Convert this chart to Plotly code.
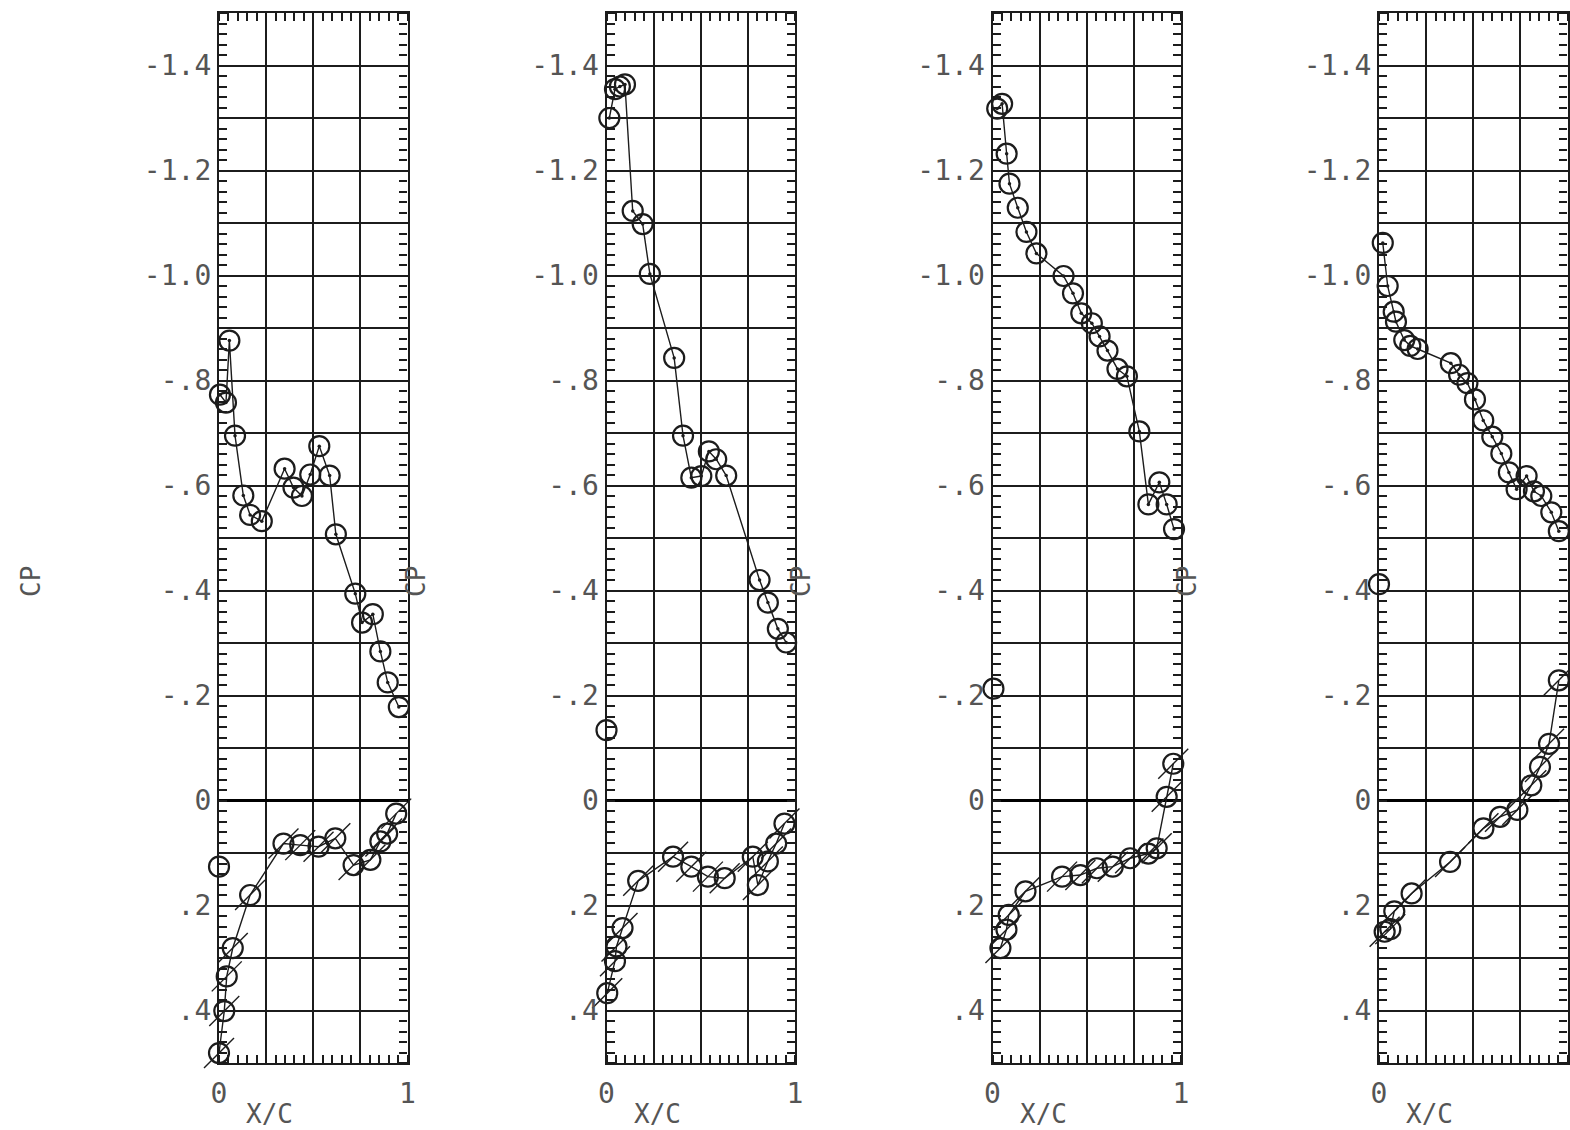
import plotly.graph_objects as go

# ---------------- data (x/c, Cp) ----------------
p1_up_x = [0.005, 0.037, 0.055, 0.085, 0.129, 0.165, 0.227, 0.348, 0.395, 0.44, 0.484, 0.532, 0.587, 0.62, 0.723, 0.759, 0.816, 0.856, 0.895, 0.954]
p1_up_cp = [-0.773, -0.758, -0.876, -0.695, -0.581, -0.544, -0.532, -0.632, -0.596, -0.580, -0.621, -0.675, -0.619, -0.507, -0.394, -0.339, -0.355, -0.284, -0.225, -0.178]
p1_le_x = [0.0]
p1_le_cp = [0.126]
p1_lo_x = [0.0, 0.028, 0.041, 0.073, 0.165, 0.342, 0.431, 0.528, 0.617, 0.714, 0.803, 0.856, 0.892, 0.94]
p1_lo_cp = [0.481, 0.401, 0.335, 0.281, 0.180, 0.082, 0.085, 0.088, 0.072, 0.123, 0.113, 0.078, 0.063, 0.025]

p2_up_x = [0.015, 0.045, 0.071, 0.098, 0.139, 0.192, 0.230, 0.359, 0.406, 0.45, 0.503, 0.543, 0.582, 0.635, 0.812, 0.856, 0.909, 0.953]
p2_up_cp = [-1.300, -1.355, -1.360, -1.364, -1.123, -1.098, -1.003, -0.843, -0.695, -0.615, -0.618, -0.665, -0.650, -0.619, -0.420, -0.377, -0.327, -0.301]
p2_le_x = [0.0]
p2_le_cp = [-0.134]
p2_lo_x = [0.004, 0.045, 0.053, 0.085, 0.168, 0.353, 0.45, 0.538, 0.627, 0.776, 0.803, 0.856, 0.900, 0.944]
p2_lo_cp = [0.367, 0.306, 0.278, 0.243, 0.153, 0.107, 0.126, 0.145, 0.148, 0.107, 0.161, 0.116, 0.082, 0.044]

p3_up_x = [0.025, 0.051, 0.075, 0.09, 0.134, 0.180, 0.233, 0.377, 0.427, 0.471, 0.527, 0.568, 0.610, 0.663, 0.713, 0.779, 0.827, 0.885, 0.924, 0.963]
p3_up_cp = [-1.318, -1.327, -1.232, -1.175, -1.129, -1.083, -1.042, -0.999, -0.966, -0.928, -0.909, -0.884, -0.857, -0.822, -0.808, -0.703, -0.564, -0.606, -0.564, -0.517]
p3_le_x = [0.005]
p3_le_cp = [-0.213]
p3_lo_x = [0.042, 0.074, 0.086, 0.175, 0.369, 0.466, 0.554, 0.638, 0.73, 0.827, 0.871, 0.924, 0.959]
p3_lo_cp = [0.281, 0.246, 0.218, 0.173, 0.145, 0.142, 0.129, 0.126, 0.110, 0.101, 0.091, -0.007, -0.070]

p4_up_x = [0.02, 0.046, 0.078, 0.090, 0.134, 0.166, 0.205, 0.381, 0.425, 0.469, 0.509, 0.553, 0.601, 0.649, 0.689, 0.730, 0.783, 0.822, 0.861, 0.914, 0.954]
p4_up_cp = [-1.062, -0.980, -0.931, -0.912, -0.877, -0.866, -0.860, -0.833, -0.811, -0.795, -0.764, -0.724, -0.693, -0.661, -0.625, -0.593, -0.618, -0.589, -0.580, -0.549, -0.513]
p4_le_x = [0.0]
p4_le_cp = [-0.412]
p4_lo_x = [0.03, 0.06, 0.081, 0.173, 0.377, 0.554, 0.642, 0.734, 0.808, 0.854, 0.902, 0.954]
p4_lo_cp = [0.25, 0.245, 0.211, 0.177, 0.117, 0.053, 0.031, 0.018, -0.029, -0.064, -0.108, -0.229]

y_tickvals = [-1.4, -1.3, -1.2, -1.1, -1.0, -0.9, -0.8, -0.7, -0.6, -0.5, -0.4, -0.3, -0.2, -0.1, 0.0, 0.1, 0.2, 0.3, 0.4]
y_ticktext = ["-1.4", "", "-1.2", "", "-1.0", "", "-.8", "", "-.6", "", "-.4", "", "-.2", "", "0", "", ".2", "", ".4"]
x_tickvals = [0, 0.25, 0.5, 0.75, 1]
x_ticktext = ["0", "", "", "", "1"]

panels = [
    (p1_up_x, p1_up_cp, p1_le_x, p1_le_cp, p1_lo_x, p1_lo_cp),
    (p2_up_x, p2_up_cp, p2_le_x, p2_le_cp, p2_lo_x, p2_lo_cp),
    (p3_up_x, p3_up_cp, p3_le_x, p3_le_cp, p3_lo_x, p3_lo_cp),
    (p4_up_x, p4_up_cp, p4_le_x, p4_le_cp, p4_lo_x, p4_lo_cp),
]

# ---------------- layout geometry ----------------
W, H = 1570, 1130
lefts = [219, 606.5, 992.5, 1379]
pw = 188.5
y_dom = [(H - 1063) / H, (H - 13) / H]
cp_label_x = [31, 416, 801, 1187]

INK = "#1c1c1c"
TXT = "#555555"
FONT = "DejaVu Sans Mono"
FS = 28

fig = go.Figure()
layout = dict(
    width=W, height=H, margin=dict(l=0, r=0, t=0, b=0, autoexpand=False),
    paper_bgcolor="white", plot_bgcolor="white", showlegend=False,
    font=dict(family=FONT, color=TXT, size=FS),
    annotations=[],
)

for i, (ux, ucp, lex, lecp, lx, lcp) in enumerate(panels):
    n = i + 1
    xa = "x" if n == 1 else f"x{n}"
    ya = "y" if n == 1 else f"y{n}"
    # lower surface slashes
    fig.add_trace(go.Scatter(x=lx, y=lcp, xaxis=xa, yaxis=ya, mode="markers",
                             marker=dict(symbol="line-ne", size=30, color=INK,
                                         line=dict(width=1.4, color=INK)),
                             cliponaxis=False, hoverinfo="skip"))
    # lower surface
    fig.add_trace(go.Scatter(x=lx, y=lcp, xaxis=xa, yaxis=ya, mode="lines+markers",
                             line=dict(color=INK, width=1.4),
                             marker=dict(symbol="circle-open", size=20, color=INK,
                                         line=dict(width=2.2, color=INK)),
                             cliponaxis=False))
    # upper surface
    fig.add_trace(go.Scatter(x=ux, y=ucp, xaxis=xa, yaxis=ya, mode="lines+markers",
                             line=dict(color=INK, width=1.4),
                             marker=dict(symbol="circle-open", size=20, color=INK,
                                         line=dict(width=2.2, color=INK)),
                             cliponaxis=False))
    # centre dots of upper-surface symbols
    fig.add_trace(go.Scatter(x=ux, y=ucp, xaxis=xa, yaxis=ya, mode="markers",
                             marker=dict(symbol="circle", size=3.5, color=INK),
                             cliponaxis=False, hoverinfo="skip"))
    # leading-edge point
    fig.add_trace(go.Scatter(x=lex, y=lecp, xaxis=xa, yaxis=ya, mode="markers",
                             marker=dict(symbol="circle-open", size=20, color=INK,
                                         line=dict(width=2.2, color=INK)),
                             cliponaxis=False))

    x0 = lefts[i] / W
    x1 = (lefts[i] + pw) / W
    layout["xaxis" if n == 1 else f"xaxis{n}"] = dict(
        domain=[x0, x1], anchor=ya, range=[0, 1], automargin=False,
        tickmode="array", tickvals=x_tickvals, ticktext=x_ticktext,
        ticks="", showgrid=True, gridcolor=INK, gridwidth=1.6,
        zeroline=True, zerolinecolor="#000", zerolinewidth=3.5,
        showline=True, linecolor=INK, linewidth=2.2, mirror="ticks",
        minor=dict(tickmode="linear", tick0=0, dtick=0.05, ticks="inside",
                   ticklen=8, tickwidth=1.6, tickcolor=INK, showgrid=False),
        tickfont=dict(family=FONT, size=FS, color=TXT),
        ticklabelstandoff=4, fixedrange=True,
    )
    layout["yaxis" if n == 1 else f"yaxis{n}"] = dict(
        domain=y_dom, anchor=xa, range=[0.5, -1.5], automargin=False,
        tickmode="array", tickvals=y_tickvals, ticktext=y_ticktext,
        ticks="", showgrid=True, gridcolor=INK, gridwidth=1.6,
        zeroline=True, zerolinecolor="#000", zerolinewidth=3,
        showline=True, linecolor=INK, linewidth=2.2, mirror="ticks",
        minor=dict(tickmode="linear", tick0=0, dtick=0.02, ticks="inside",
                   ticklen=8, tickwidth=1.6, tickcolor=INK, showgrid=False),
        tickfont=dict(family=FONT, size=FS, color=TXT),
        ticklabelstandoff=0, fixedrange=True,
    )
    layout["annotations"].append(dict(
        text="X/C", xref=xa, yref="paper", x=0.27, y=(H - 1114) / H,
        showarrow=False, font=dict(family=FONT, size=26, color=TXT),
        xanchor="center", yanchor="middle"))
    layout["annotations"].append(dict(
        text="CP", xref="paper", yref="paper", x=cp_label_x[i] / W, y=(H - 582) / H,
        showarrow=False, textangle=-90, font=dict(family=FONT, size=26, color=TXT),
        xanchor="center", yanchor="middle"))

fig.update_layout(**layout)
fig.write_html("out.html", config={"displayModeBar": False},
               post_script="document.body.style.margin='0px';document.body.style.overflow='hidden';")
